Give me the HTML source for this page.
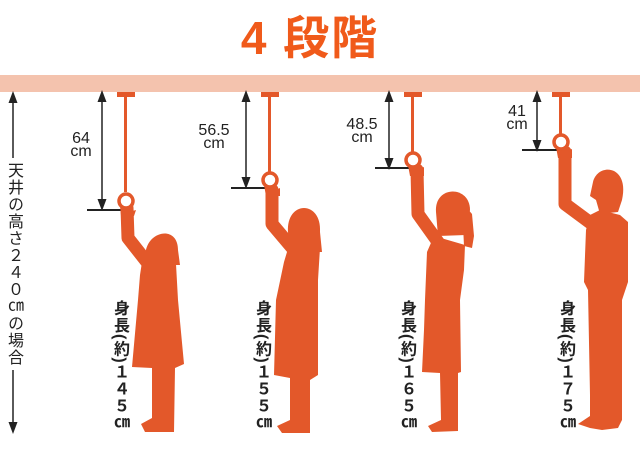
<!DOCTYPE html>
<html><head><meta charset="utf-8"><style>
body{margin:0;background:#fff;width:640px;height:460px;overflow:hidden;position:relative;font-family:"Liberation Sans","Noto Sans CJK JP",sans-serif}
.t{position:absolute;left:0;width:620px;text-align:center;top:2px;font-size:46px;font-weight:bold;color:#f05a1a;letter-spacing:2px}
.v{position:absolute;writing-mode:vertical-rl;font-size:16px;font-weight:bold;color:#222;line-height:18px;letter-spacing:1px}
.lab{position:absolute;font-size:16px;color:#222;line-height:13px;text-align:center}
</style></head><body>
<div class="t">4 段階</div>
<svg width="640" height="460" style="position:absolute;left:0;top:0">
<defs><marker id="a" markerWidth="8" markerHeight="8" refX="4" refY="4" orient="auto-start-reverse"><path d="M0,1 L8,4 L0,7z" fill="#222"/></marker></defs>
<rect x="0" y="75" width="640" height="17" fill="#f4c3ae"/>
<g stroke="#222" stroke-width="1.5" fill="none">
<line x1="13" y1="97" x2="13" y2="158" marker-start="url(#a)"/>
<line x1="13" y1="370" x2="13" y2="428" marker-end="url(#a)"/>
<line x1="102" y1="96" x2="102" y2="205" marker-start="url(#a)" marker-end="url(#a)"/>
<line x1="87" y1="210" x2="123" y2="210" stroke-width="2"/>
<line x1="246" y1="96" x2="246" y2="183" marker-start="url(#a)" marker-end="url(#a)"/>
<line x1="231" y1="188" x2="266" y2="188" stroke-width="2"/>
<line x1="389" y1="96" x2="389" y2="164" marker-start="url(#a)" marker-end="url(#a)"/>
<line x1="375" y1="168" x2="412" y2="168" stroke-width="2"/>
<line x1="537" y1="96" x2="537" y2="146" marker-start="url(#a)" marker-end="url(#a)"/>
<line x1="522" y1="150" x2="560" y2="150" stroke-width="2"/>
</g>
<g fill="#e3582a">
<rect x="117" y="92" width="18" height="5"/><rect x="124" y="92" width="3" height="100"/>
<rect x="261" y="92" width="18" height="5"/><rect x="268" y="92" width="3" height="80"/>
<rect x="404" y="92" width="18" height="5"/><rect x="411" y="92" width="3" height="61"/>
<rect x="552" y="92" width="18" height="5"/><rect x="559" y="92" width="3" height="42"/>
</g>
<g fill="none" stroke="#e3582a" stroke-width="13" stroke-linejoin="round" stroke-linecap="round">
<polyline points="127,208 128,238 150,266"/>
<polyline points="272,190 272,224 294,250"/>
<polyline points="417,170 418,214 438,242"/>
<polyline points="565,152 565,204 592,224"/>
</g>
<g fill="#e3582a">
<!-- fig1 -->
<path d="M142,262 L176,264 L178,300 L184,364 L175,368 L174,432 L145,432 L141,424 L152,418 L152,368 L132,367 L138,300 L140,275 Z"/>
<path d="M146,262 C140,232 178,222 178,250 L180,265 L146,265 Z"/>
<!-- fig2 -->
<path d="M290,242 L320,248 L318,280 L318,375 L310,380 L310,433 L282,433 L277,426 L290,420 L290,378 L274,375 L276,300 L284,262 Z"/>
<path d="M288,232 C286,200 322,200 320,232 L322,252 L290,252 Z"/>
<!-- fig3 -->
<path d="M434,236 L465,245 L464,270 L460,300 L461,372 L458,373 L458,431 L432,432 L428,426 L441,420 L440,373 L422,372 L424,330 L425,300 L427,252 Z"/>
<path d="M436,212 C434,185 470,185 470,210 L466,235 L438,236 Z"/>
<path d="M460,200 L472,214 L474,236 L472,248 L464,246 L463,225 Z"/>
<!-- fig4 -->
<path d="M590,215 L600,210 L620,215 L628,222 L628,282 L622,300 L622,420 L618,428 L602,430 L590,428 L578,424 L590,416 L590,395 L588,290 L584,282 L586,230 Z"/>
<path d="M593,182 C598,162 630,165 622,200 L618,212 L600,214 L596,200 L590,196 Z"/>
</g>
<g fill="#fff" stroke="#e3582a" stroke-width="3.5">
<circle cx="126" cy="201" r="7"/><circle cx="270" cy="180" r="7"/><circle cx="413" cy="160" r="7"/><circle cx="561" cy="142" r="7"/>
</g>
<g fill="#e3582a">
<path d="M120,206 C124,210 130,212 136,210 L134,216 L121,215Z"/>
<path d="M264,185 C268,190 274,191 280,188 L280,196 L266,196Z"/>
<path d="M408,165 C412,170 418,170 424,167 L424,176 L410,176Z"/>
<path d="M556,147 C560,152 566,152 572,149 L572,158 L558,158Z"/>
</g>
</svg>
<div class="v" style="left:4px;top:162px;font-weight:normal">天井の高さ２４０㎝の場合</div>
<div class="lab" style="left:66px;top:132px;width:30px">64<br>cm</div>
<div class="lab" style="left:193px;top:124px;width:42px">56.5<br>cm</div>
<div class="lab" style="left:340px;top:118px;width:44px">48.5<br>cm</div>
<div class="lab" style="left:503px;top:105px;width:28px">41<br>cm</div>
<div class="v" style="left:110px;top:300px">身長(約)１４５㎝</div>
<div class="v" style="left:252px;top:300px">身長(約)１５５㎝</div>
<div class="v" style="left:397px;top:300px">身長(約)１６５㎝</div>
<div class="v" style="left:556px;top:300px">身長(約)１７５㎝</div>
</body></html>
